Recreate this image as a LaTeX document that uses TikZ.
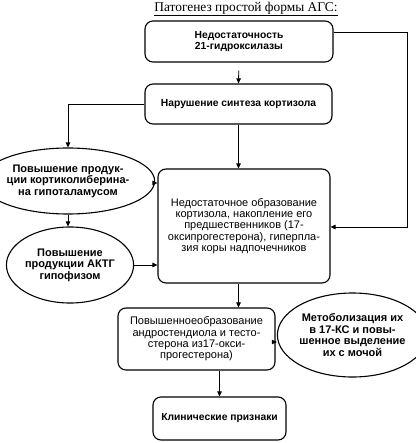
\documentclass[tikz,border=0pt]{standalone}
\usepackage{fontspec}
\setmainfont{Liberation Serif}
\newfontfamily\diagsans{Liberation Sans}
\usetikzlibrary{arrows.meta,shapes.geometric,calc}
\tikzset{
  rbox/.style={draw, line width=1.1pt, rounded corners=8pt, align=center, inner sep=0pt, font=\diagsans\fontsize{11}{11.3}\selectfont},
  bbox/.style={rbox, font=\diagsans\bfseries\fontsize{10.3}{11.5}\selectfont},
  ell/.style={draw, line width=1.1pt, ellipse, align=center, inner sep=0pt, font=\diagsans\bfseries\fontsize{11}{11.5}\selectfont},
  conn/.style={line width=0.9pt},
  arr/.style={conn, -{Triangle[length=5pt,width=4.5pt]}}
}
\begin{document}
\begin{tikzpicture}[x=1pt,y=-1pt]
\useasboundingbox (0,0) rectangle (415,443);
\node[font=\fontsize{13.4}{15}\selectfont] (title) at (246,9) {\underline{Патогенез простой формы АГС:}};
\node[bbox, minimum width=188pt, minimum height=41pt] (box1) at (239,41.5) {Недостаточность\\21-гидроксилазы};
\node[bbox, minimum width=187pt, minimum height=40pt] (box2) at (238.5,104) {Нарушение синтеза кортизола};
\node[rbox, minimum width=172pt, minimum height=114pt] (big) at (244,226) {Недостаточное образование\\кортизола, накопление его\\предшественников (17-\\оксипрогестерона), гиперпла-\\зия коры надпочечников};
\node[ell, minimum width=131pt, minimum height=66pt] (ell1) at (68,181) {Повышение продук-\\ции кортиколиберина-\\на гипоталамусом};
\node[ell, minimum width=126pt, minimum height=76pt] (ell2) at (70,265) {Повышение\\продукции АКТГ\\гипофизом};
\node[rbox, minimum width=157pt, minimum height=62pt] (box5) at (196.5,339) {Повышенноеобразование\\андростендиола и тесто-\\стерона из17-окси-\\прогестерона)};
\node[ell, minimum width=112pt, minimum height=84pt] (ell3) at (352.5,335) {Метоболизация их\\в 17-КС и повы-\\шенное выделение\\их с мочой};
\node[bbox, minimum width=133pt, minimum height=43pt] (box6) at (219.5,418.5) {Клинические признаки};
\coordinate (rc) at (407,227);
\draw[arr, shorten <=8pt] (box1.south) -- (box2.north);
\draw[arr] (box2.west) -| (ell1.north);
\draw[arr] ($(box1.east)+(0,-9.5)$) -| (rc) -- (rc -| big.east);
\draw[arr] (box2.south) -- (box2.south |- big.north);
\draw[arr] ($(ell1.east)+(0,2)$) -- ($(ell1.east -| big.west)+(0,2)$);
\draw[arr] (ell1.south) -- (ell1.south |- ell2.north);
\draw[arr] (ell2.east) -- (ell2.east -| big.west);
\draw[arr] (box2.south |- big.south) -- (box2.south |- box5.north);
\draw[arr] ($(box5.east)+(0,3)$) -- ($(box5.east -| ell3.west)+(0,3)$);
\draw[arr] (box6.north |- box5.south) -- (box6.north);
\end{tikzpicture}
\end{document}
